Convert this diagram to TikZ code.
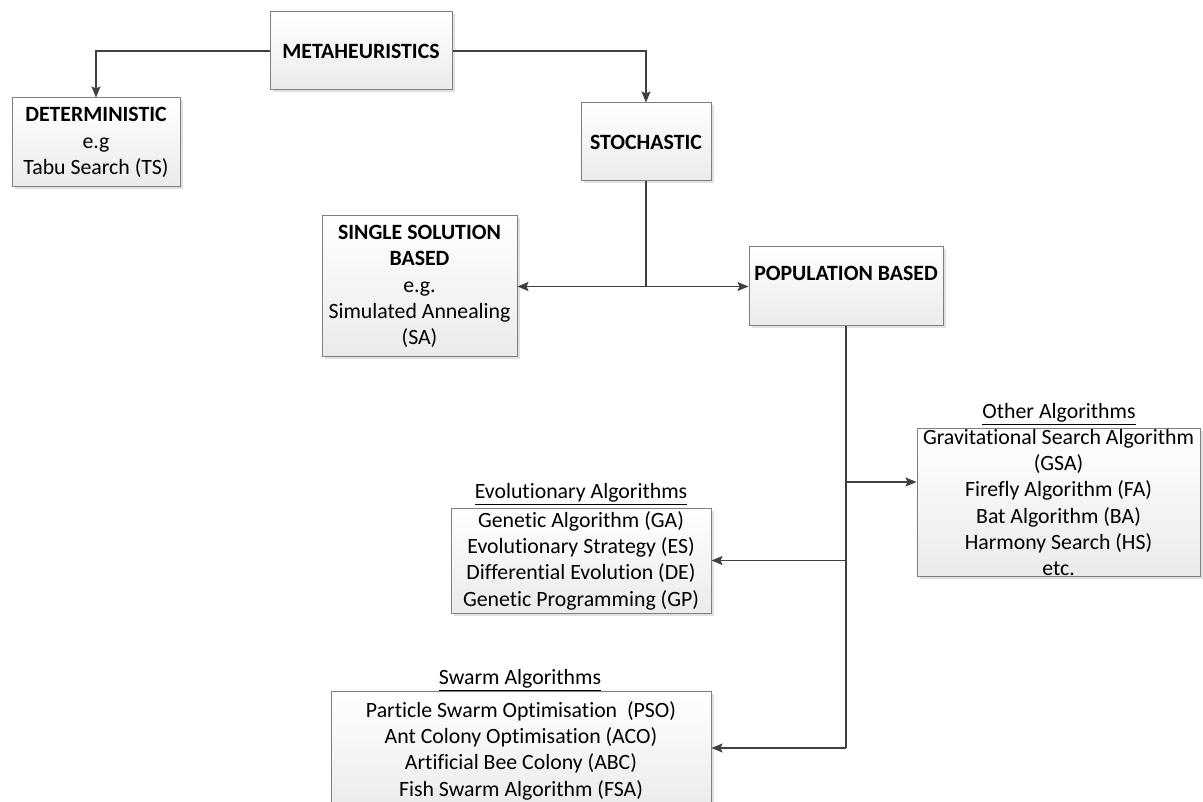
\documentclass[tikz,border=0pt]{standalone}
\usepackage{fontspec}
\setmainfont{Carlito}[Ligatures={NoCommon}]
\usetikzlibrary{shadows,arrows.meta}
\definecolor{boxline}{HTML}{7F7F7F}
\definecolor{arrowc}{HTML}{404040}
\tikzset{
  box/.style={draw=boxline, line width=1pt, top color=white, bottom color=black!8,
    general shadow={fill=black!12, shadow xshift=2.5pt, shadow yshift=-2.5pt},
    align=center, inner sep=0pt, font=\fontsize{21.8}{26.3}\selectfont},
  lbl/.style={inner sep=0pt, font=\fontsize{21.8}{26.3}\selectfont},
  link/.style={draw=arrowc, line width=1.5pt},
  conn/.style={link, -{Stealth[length=11pt,width=9pt,inset=2pt]}}
}
\begin{document}
\begin{tikzpicture}[x=1pt,y=-1pt]
\fill[white] (0,0) rectangle (1203,802);
\useasboundingbox (0,0) rectangle (1203,802);
\node[box, minimum width=182pt, minimum height=78pt] (meta) at (361,51) {\textbf{METAHEURISTICS}};
\node[box, minimum width=168pt, minimum height=89pt] (det) at (96,142.5) {\textbf{DETERMINISTIC}\\e.g\\Tabu Search (TS)};
\node[box, minimum width=130pt, minimum height=78pt] (stoch) at (646,142) {\textbf{STOCHASTIC}};
\node[box, minimum width=195pt, minimum height=141pt] (single) at (419.5,286.5) {\textbf{SINGLE SOLUTION}\\\textbf{BASED}\\e.g.\\Simulated Annealing\\(SA)};
\node[box, minimum width=194pt, minimum height=79pt] (pop) at (846,286.5) {\textbf{POPULATION BASED}\\\mbox{}};
\node[box, minimum width=283pt, minimum height=147pt] (other) at (1058.5,502.5) {Gravitational Search Algorithm\\(GSA)\\Firefly Algorithm (FA)\\Bat Algorithm (BA)\\Harmony Search (HS)\\etc.};
\node[box, minimum width=260pt, minimum height=105pt] (evo) at (581,560.5) {Genetic Algorithm (GA)\\Evolutionary Strategy (ES)\\Differential Evolution (DE)\\Genetic Programming (GP)};
\node[box, minimum width=380pt, minimum height=119pt] (swarm) at (521,750.5) {Particle Swarm Optimisation\ \ (PSO)\\Ant Colony Optimisation (ACO)\\Artificial Bee Colony (ABC)\\Fish Swarm Algorithm (FSA)};
\node[lbl] (otherlbl) at (1059,414) {\underline{Other Algorithms}};
\node[lbl] (evolbl) at (581,494) {\underline{Evolutionary Algorithms}};
\node[lbl] (swarmlbl) at (520,680) {\underline{Swarm Algorithms}};
\draw[conn] (meta.west) -| (det.north);
\draw[conn] (meta.east) -| (stoch.north);
\coordinate (j0) at (stoch.south |- single.east);
\draw[link] (stoch.south) -- (j0);
\draw[conn] (j0) -- (single.east);
\draw[conn] (j0) -- (pop.west);
\coordinate (j1) at (846,482);
\coordinate (j2) at (pop.south |- evo.east);
\coordinate (j3) at (846,748);
\draw[link] (pop.south) -- (j3);
\draw[conn] (j1) -- (j1 -| other.west);
\draw[conn] (j2) -- (evo.east);
\draw[conn] (j3) -- (j3 -| swarm.east);
\end{tikzpicture}
\end{document}
